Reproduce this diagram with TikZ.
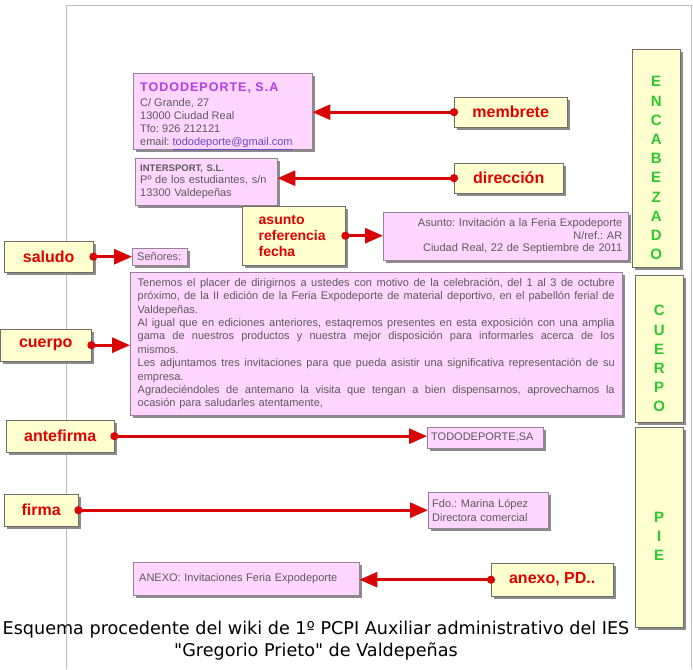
\documentclass[tikz,border=0pt]{standalone}
\usepackage{fontspec}
\setmainfont{Liberation Sans}
\newfontfamily\capfont{DejaVu Sans}
\usetikzlibrary{arrows.meta,shadows}
\definecolor{pinkfill}{RGB}{255,214,255}
\definecolor{pinkdraw}{RGB}{150,130,150}
\definecolor{yelfill}{RGB}{255,255,208}
\definecolor{yeldraw}{RGB}{110,110,100}
\definecolor{lblred}{RGB}{225,0,0}
\definecolor{arrred}{RGB}{215,5,5}
\definecolor{txtgrey}{RGB}{90,90,90}
\definecolor{greenl}{RGB}{45,200,45}
\definecolor{purp}{RGB}{180,60,230}
\definecolor{linkc}{RGB}{100,70,200}
\definecolor{framegrey}{RGB}{190,190,190}
\newcommand{\jline}[1]{{\spaceskip=0pt\xspaceskip=0pt\makebox[477pt][s]{#1}}}
\tikzset{
  shadowed/.style={drop shadow={shadow xshift=2.5pt,shadow yshift=-2.5pt,fill=black!45,opacity=1}},
  pinkbox/.style={draw=pinkdraw, fill=pinkfill, rectangle, anchor=north west, inner sep=0pt, inner xsep=5pt,
    shadowed, text=txtgrey, font=\fontsize{11}{12.7}\selectfont\frenchspacing, align=left},
  yelbox/.style={draw=yeldraw, fill=yelfill, rectangle, anchor=north west, inner sep=0pt, shadowed},
  lbl/.style={yelbox, text=lblred, font=\fontsize{16}{18}\selectfont\bfseries, align=center},
  greenstack/.style={text=greenl, font=\fontsize{15}{19.2}\selectfont\bfseries, align=center, inner sep=0pt},
  conn/.style={draw=arrred, line width=3pt, {Circle[length=8pt,fill=arrred,color=arrred]}-{Triangle[length=18pt,width=15pt,fill=arrred,color=arrred]}, shorten <=-4pt}
}
\begin{document}
\frenchspacing
\begin{tikzpicture}[x=1pt,y=-1pt]
\useasboundingbox (0,0) rectangle (693,669);
\fill[white] (0,0) rectangle (693,669);
\draw[framegrey, line width=1pt] (66,669) -- (66,6) -- (691,6) -- (691,669);

% pink boxes
\node[pinkbox, minimum width=179pt, minimum height=76pt] (mbox) at (133,73) {};
\node[anchor=north west, inner sep=0pt, align=left, text=txtgrey, font=\fontsize{11}{12.7}\selectfont\frenchspacing] (mboxt) at ([xshift=7pt,yshift=-10pt]mbox.north west)
  {{\fontsize{12.5}{15}\selectfont\bfseries\color{purp}\addfontfeature{LetterSpace=8}TODODEPORTE, S.A}\\[2.3pt]
   C/ Grande, 27\\13000 Ciudad Real\\Tfo: 926 212121\\email: {\color{linkc}\underline{tododeporte@gmail.com}}};
\node[pinkbox, minimum width=142pt, minimum height=47pt, text width=132pt] (dbox) at (135,158)
  {{\fontsize{9.5}{12.7}\selectfont\bfseries INTERSPORT, S.L.}\\Pº de los estudiantes, s/n\\13300 Valdepeñas};
\node[pinkbox, minimum width=245pt, minimum height=48pt, text width=233pt, inner xsep=6pt, align=right, font=\fontsize{11}{12.5}\selectfont\frenchspacing] (apbox) at (383,212)
  {Asunto: Invitación a la Feria Expodeporte\\N/ref.: AR\\Ciudad Real, 22 de Septiembre de 2011};
\node[pinkbox, minimum width=55pt, minimum height=17pt, text width=45pt] (sbox) at (132,248) {Señores:};
\node[pinkbox, minimum width=492pt, minimum height=143pt, text width=477pt, inner xsep=7.5pt, font=\fontsize{11}{13.4}\selectfont\frenchspacing] (cbox) at (130,272)
  {\jline{Tenemos el placer de dirigirnos a ustedes con motivo de la celebración, del 1 al 3 de octubre}\\
   \jline{próximo, de la II edición de la Feria Expodeporte de material deportivo, en el pabellón ferial de}\\
   Valdepeñas.\\
   \jline{Al igual que en ediciones anteriores, estaqremos presentes en esta exposición con una amplia}\\
   \jline{gama de nuestros productos y nuestra mejor disposición para informarles acerca de los}\\
   mismos.\\
   \jline{Les adjuntamos tres invitaciones para que pueda asistir una significativa representación de su}\\
   empresa.\\
   \jline{Agradeciéndoles de antemano la visita que tengan a bien dispensarnos, aprovechamos la}\\
   ocasión para saludarles atentamente,\\[8pt]};
\node[pinkbox, minimum width=116pt, minimum height=21pt, text width=108pt, inner xsep=4pt] (tbox) at (427,427) {TODODEPORTE,SA};
\node[pinkbox, minimum width=120pt, minimum height=36pt, text width=112pt, inner xsep=4pt, font=\fontsize{11}{14}\selectfont\frenchspacing] (fbox) at (428,492) {Fdo.: Marina López\\Directora comercial};
\node[pinkbox, minimum width=225pt, minimum height=33pt, text width=214pt, inner xsep=6pt] (abox) at (133,562) {ANEXO: Invitaciones Feria Expodeporte};

% label boxes
\node[lbl, minimum width=113pt, minimum height=30pt] (membrete) at (454,97) {membrete};
\node[lbl, minimum width=109pt, minimum height=30pt] (direccion) at (454,163) {dirección};
\node[lbl, minimum width=103pt, minimum height=59pt, text width=70pt, inner xsep=0pt, align=left, font=\fontsize{14}{16}\selectfont\bfseries] (asunto) at (242,206) {asunto\\referencia\\fecha};
\node[lbl, minimum width=89pt, minimum height=31pt] (saludo) at (4,241) {saludo};
\node[lbl, minimum width=91pt, minimum height=32pt] (cuerpo) at (0,329) {cuerpo};
\node[lbl, minimum width=108pt, minimum height=32pt] (antefirma) at (6,420) {antefirma};
\node[lbl, minimum width=74pt, minimum height=32pt] (firma) at (4,494) {firma};
\node[lbl, minimum width=122pt, minimum height=33pt] (anexo) at (491,563) {anexo, PD..};

% section boxes
\node[yelbox, minimum width=48pt, minimum height=218pt] (enc) at (632,49) {};
\node[yelbox, minimum width=48pt, minimum height=147pt] (cue) at (635,275) {};
\node[yelbox, minimum width=48pt, minimum height=200pt] (pie) at (635,427) {};
\node[greenstack, yshift=-10pt] (enct) at (enc.center) {E\\N\\C\\A\\B\\E\\Z\\A\\D\\O};
\node[greenstack, yshift=-10pt] (cuet) at (cue.center) {C\\U\\E\\R\\P\\O};
\node[greenstack, yshift=-9pt] (piet) at (pie.center) {P\\I\\E};

% connectors
\draw[conn] (membrete.west) -- (mbox.east |- membrete.west);
\draw[conn] (direccion.west) -- (dbox.east |- direccion.west);
\draw[conn] (asunto.east) -- (apbox.west |- asunto.east);
\draw[conn] (saludo.east) -- (sbox.west |- saludo.east);
\draw[conn] (cuerpo.east) -- (cbox.west |- cuerpo.east);
\draw[conn] (antefirma.east) -- (tbox.west |- antefirma.east);
\draw[conn] (firma.east) -- (fbox.west |- firma.east);
\draw[conn] (anexo.west) -- (abox.east |- anexo.west);

% caption
\node[font=\capfont\fontsize{17.6}{22}\selectfont, text=black, inner sep=0pt, align=center] (caption) at (316,641)
  {Esquema procedente del wiki de 1º PCPI Auxiliar administrativo del IES\\"Gregorio Prieto" de Valdepeñas};
\end{tikzpicture}
\end{document}
